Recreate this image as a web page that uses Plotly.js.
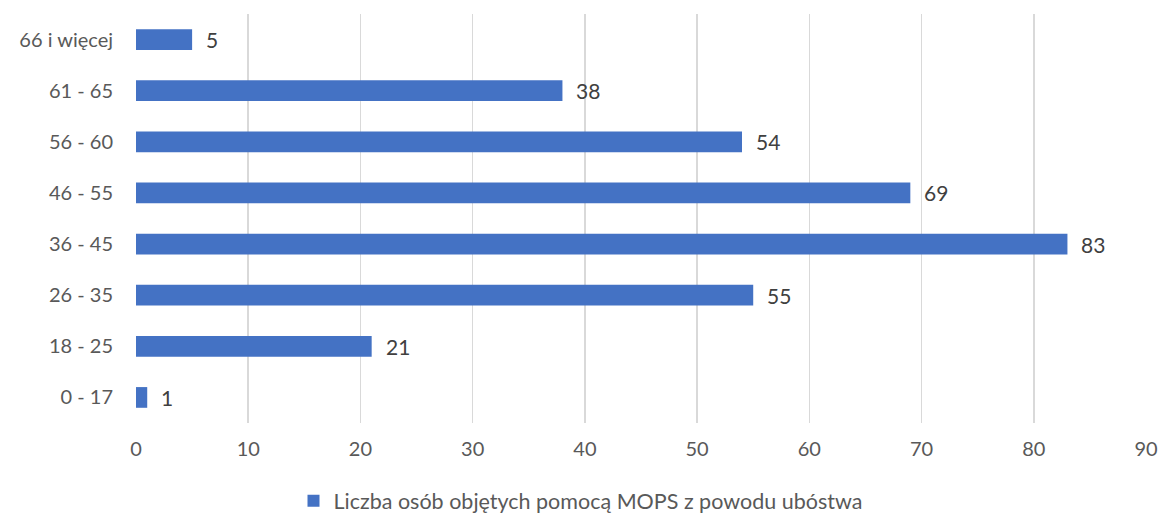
<!DOCTYPE html>
<html><head><meta charset="utf-8">
<script src="https://cdn.plot.ly/plotly-3.0.1.min.js"></script>
<style>html,body{margin:0;padding:0;background:#fff}#chart{width:1161px;height:519px}</style>
</head><body><div id="chart"></div>
<script>
const categories = ["0 - 17","18 - 25","26 - 35","36 - 45","46 - 55","56 - 60","61 - 65","66 i więcej"];
const values = [1,21,55,83,69,54,38,5];
const seriesName = "Liczba osób objętych pomocą MOPS z powodu ubóstwa";
const xTicks = [0,10,20,30,40,50,60,70,80,90];

const FONT = "Lato, 'Open Sans', sans-serif";
const trace = {
  type: "bar", orientation: "h",
  x: values, y: categories, name: seriesName,
  marker: {color: "#4472C4"},
  hoverinfo: "x+y"
};
const annotations = values.map((v,i)=>({
  x: v, y: categories[i], xref: "x", yref: "y",
  text: String(v), showarrow: false, xanchor: "left", xshift: 12,
  font: {family: FONT, size: 21, color: "#404040"}
}));
const layout = {
  width: 1161, height: 519,
  margin: {l:136, r:15, t:14, b:96},
  paper_bgcolor: "#fff", plot_bgcolor: "#fff",
  bargap: 0.595,
  showlegend: true,
  font: {family: FONT, size: 21, color: "#595959"},
  xaxis: {range:[0,90], tickvals: xTicks, showgrid: true, gridcolor: "#d9d9d9", gridwidth: 1.5,
          zeroline: false, showline: false, ticklabelstandoff: 12, fixedrange: true,
          tickfont: {family: FONT, size: 20, color: "#595959"}},
  yaxis: {categoryorder: "array", categoryarray: categories, showgrid: false, zeroline: false,
          showline: false, ticklabelstandoff: 22, tickfont: {family: FONT, size: 20, color: "#595959"}},
  legend: {orientation: "h", x: 0.5, xanchor: "center", xref: "container", yref: "container", y: 0.035, yanchor: "middle",
           font: {family: FONT, size: 21.5, color: "#595959"}},
  annotations: annotations
};
Plotly.newPlot("chart", [trace], layout, {displayModeBar: false, staticPlot: true});
</script></body></html>
